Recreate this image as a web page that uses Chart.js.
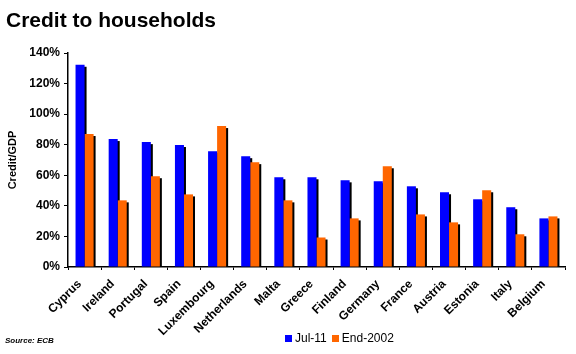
<!DOCTYPE html>
<html>
<head>
<meta charset="utf-8">
<script src="https://cdn.jsdelivr.net/npm/chart.js@4"></script>
<style>
  body { margin:0; background:#fff; font-family:"Liberation Sans", Arial, sans-serif; }
  .wrap { position:relative; width:576px; height:354px; }
  .ttl { position:absolute; left:6px; top:8px; font-size:21px; font-weight:bold; color:#000; }
  .src { position:absolute; left:5px; top:336px; font-size:8px; font-weight:bold; font-style:italic; }
  .lg { position:absolute; left:285px; top:331px; font-size:12px; display:flex; align-items:center; }
  .lg i { display:inline-block; width:7px; height:7px; margin-right:3px; }
  .lg span { margin-right:5px; }
</style>
</head>
<body>
<div class="wrap">
  <canvas id="c" width="576" height="354"></canvas>
  <div class="ttl">Credit to households</div>
  <div class="lg"><i style="background:#0000FF"></i><span>Jul-11</span><i style="background:#FF6600"></i><span>End-2002</span></div>
  <div class="src">Source: ECB</div>
</div>
<script>
const countries = ['Cyprus','Ireland','Portugal','Spain','Luxembourg','Netherlands','Malta','Greece','Finland','Germany','France','Austria','Estonia','Italy','Belgium'];
const jul11 = [132.3, 83.7, 81.7, 79.8, 75.8, 72.5, 58.7, 58.7, 56.7, 56.1, 52.8, 48.9, 44.3, 39.1, 31.8];
const end2002 = [87.0, 43.6, 59.4, 47.5, 92.2, 68.6, 43.6, 19.3, 31.8, 65.9, 34.4, 29.2, 50.2, 21.4, 33.1];
const yTicks = [0, 20, 40, 60, 80, 100, 120, 140];

// black drop shadow behind each bar
const barShadow = {
  id: 'barShadow',
  beforeDatasetsDraw(chart) {
    const ctx = chart.ctx;
    ctx.save();
    ctx.fillStyle = '#000';
    chart.data.datasets.forEach((d, i) => {
      chart.getDatasetMeta(i).data.forEach(b => {
        const w = b.width;
        ctx.fillRect(b.x - w / 2 + 2, b.y + 2, w, b.base - b.y - 2);
      });
    });
    ctx.restore();
  }
};

new Chart(document.getElementById('c').getContext('2d'), {
  type: 'bar',
  data: {
    labels: countries,
    datasets: [
      { label: 'Jul-11', data: jul11, backgroundColor: '#0000FF' },
      { label: 'End-2002', data: end2002, backgroundColor: '#FF6600' }
    ]
  },
  options: {
    responsive: false,
    animation: false,
    layout: { padding: { top: 53, right: 11, left: 0, bottom: 0 } },
    datasets: { bar: { categoryPercentage: 0.545, barPercentage: 1 } },
    plugins: { legend: { display: false }, tooltip: { enabled: false } },
    scales: {
      x: {
        afterFit: s => { s.height = 87; },
        grid: { drawOnChartArea: false, drawTicks: true, tickLength: 3, color: '#000', lineWidth: 1 },
        border: { color: '#000', width: 1.5 },
        ticks: { color: '#000', minRotation: 45, maxRotation: 45, labelOffset: -5, padding: 7,
                 font: { family: 'Liberation Sans', size: 12, weight: 'bold' } }
      },
      y: {
        min: 0, max: 140,
        afterFit: s => { s.width = 68; },
        afterBuildTicks: s => { s.ticks = yTicks.map(v => ({ value: v })); },
        grid: { drawOnChartArea: false, drawTicks: true, tickLength: 4, color: '#000', lineWidth: 1 },
        border: { color: '#000', width: 1.5 },
        title: { display: true, text: 'Credit/GDP', color: '#000', padding: { top: 6, bottom: 0 },
                 font: { family: 'Liberation Sans', size: 11, weight: 'bold' } },
        ticks: { color: '#000', padding: 4, callback: v => v + '%',
                 font: { family: 'Liberation Sans', size: 12, weight: 'bold' } }
      }
    }
  },
  plugins: [barShadow]
});
</script>
</body>
</html>
